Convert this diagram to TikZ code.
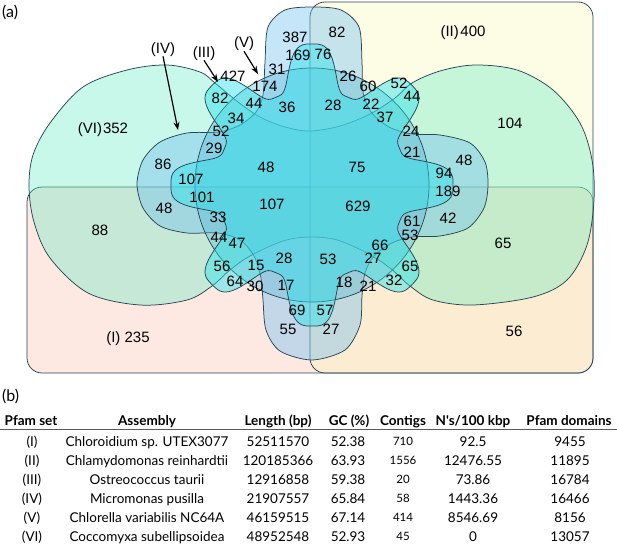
\documentclass[tikz,border=0pt]{standalone}
\usepackage{fontspec}
\setmainfont{Liberation Sans}
\newfontfamily\tabfont{Lato}
\usetikzlibrary{arrows.meta}
\definecolor{cI}{RGB}{250,180,160}
\definecolor{cII}{RGB}{250,245,170}
\definecolor{cVI}{RGB}{100,235,195}
\definecolor{cIV}{RGB}{110,190,240}
\definecolor{cV}{RGB}{80,180,210}
\definecolor{cIII}{RGB}{40,225,235}
\definecolor{edge}{RGB}{40,70,85}
\begin{document}
\begin{tikzpicture}[x=1pt,y=-1pt,
  vset/.style={draw=edge, line width=0.75pt},
  num/.style={font=\fontsize{15}{15}\selectfont, inner sep=0pt, anchor=base},
  tb/.style={font=\tabfont\fontsize{13.5}{14}\selectfont, inner sep=0pt, anchor=base},
  tbh/.style={font=\tabfont\bfseries\fontsize{13.5}{14}\selectfont, inner sep=0pt, anchor=base},
  tbs/.style={font=\tabfont\fontsize{11.5}{12}\selectfont, inner sep=0pt, anchor=base},
  pan/.style={font=\tabfont\fontsize{16}{16}\selectfont, inner sep=0pt, anchor=base west},
  arr/.style={-{Stealth[length=8pt,width=6pt]}, line width=1.2pt}]
\useasboundingbox (0,0) rectangle (617,543);
% set I and II (rectangles)
\filldraw[vset, fill=cI, fill opacity=0.3, rounded corners=15] (27,187) rectangle (593,373);
\filldraw[vset, fill=cII, fill opacity=0.3, rounded corners=15] (310,2) rectangle (593,373);
% set VI (two-lobed)
\filldraw[vset, fill=cVI, fill opacity=0.36] plot[smooth cycle, tension=0.55] coordinates {
 (310,131) (285,127) (260,117) (238,102) (215,83) (200,72) (167,65) (127,70) (83,87) (50,123) (33,155)
 (29,187) (34,222) (50,258) (88,293) (140,305) (187,300) (212,286)
 (230,270) (250,256) (283,241) (310,237) (337,240) (367,253) (390,268) (410,286)
 (433,300) (473,305) (533,297) (567,280) (587,245) (594,200) (592,160) (580,123) (553,90)
 (517,70) (475,65) (440,71) (412,83) (395,98) (370,114) (340,126)};
% set IV (four-lobed)
\filldraw[vset, fill=cIV, fill opacity=0.4] plot[smooth cycle, tension=0.5] coordinates {
 (265,62) (268,27) (285,10) (313,7) (341,10) (359,27) (362,62) (363,92) (371,112) (389,127) (412,134)
 (440,135) (470,143) (485,162) (488,185) (484,208) (468,228) (440,236) (412,237) (392,243) (374,256)
 (365,273) (362,296) (360,325) (345,350) (312,360) (280,351) (266,330) (263,300) (261,278) (254,256)
 (240,240) (218,233) (187,233) (160,226) (143,208) (137,184) (143,160) (160,142) (187,133) (219,132)
 (240,125) (256,112) (263,95)};
% set V (circle)
\filldraw[vset, fill=cV, fill opacity=0.35] (312,185) circle[radius=117];
% set III (eight-lobed)
\filldraw[vset, fill=cIII, fill opacity=0.45] plot[domain=0:360, samples=361, variable=\t]
 ({312+(118+26*(cos(8*\t)-cos(24*\t)/9))*cos(\t)},{185+(118+26*(cos(8*\t)-cos(24*\t)/9))*sin(\t)}) -- cycle;
% set labels and arrows
\node[num] (lIV) at (163,53) {(IV)};
\node[num] (lIII) at (204,57) {(III)};
\node[num] (lV) at (244,48) {(V)};
\coordinate (tIV) at (178,130);
\coordinate (tIII) at (218,82);
\coordinate (tV) at (258,74);
\draw[arr] (lIV.south) -- (tIV);
\draw[arr] (lIII.south) -- (tIII);
\draw[arr] (lV.south) -- (tV);
\node[num] (nVI) at (103,133) {(VI)\kern1pt352};
\node[num] (nII) at (463,37) {(II)\kern1.5pt400};
\node[num] (nI) at (128,342) {(I) 235};
% region counts
\foreach \x/\y/\t [count=\i] in {
 295/37/387, 298/55/169, 337/32/82, 323/54/76,
 233/76/427, 277/69/31, 265/86/174, 220/98/82, 254/103/44, 287/107/36,
 236/118/34, 221/131/52, 214/148/29,
 163/164/86, 266/167/48, 191/179/107, 202/197/101, 272/204/107, 164/208/48,
 100/230/88, 218/217/33, 219/237/44, 237/243/47, 284/258/28, 222/266/56, 256/265/15,
 235/281/64, 255/286/30, 286/285/17, 297/310/69, 288/329/55,
 348/76/26, 368/86/60, 399/83/52, 412/96/44, 333/105/28, 371/104/22, 385/117/37,
 510/123/104, 411/131/24, 412/152/21, 464/160/48, 357/167/75, 444/173/94, 448/191/189,
 358/206/629, 412/221/61, 448/218/42, 410/235/53, 503/243/65, 380/245/66, 328/259/53,
 373/258/27, 410/266/65, 344/282/18, 368/286/21, 394/280/32, 325/310/57, 331/329/27,
 514/331/56}
 { \node[num] (r\i) at (\x,\y+5.3) {\t}; }
% panel labels
\node[pan] (pa) at (2,18) {(a)};
\node[pan] (pb) at (2,401) {(b)};
% table
\foreach \x/\t [count=\i] in {31/{Pfam set}, 147/{Assembly}, 278/{Length (bp)}, 349/{GC (\%)}, 403/{Contigs}, 473/{N's/100 kbp}, 569/{Pfam domains}}
 { \node[tbh] (h\i) at (\x,425) {\t}; }
\draw[line width=1.2pt, draw={rgb,255:red,90;green,90;blue,90}] (0,429.5) -- (617,429.5);
\foreach \r/\a/\b/\c/\d/\e/\f/\g [count=\i] in {
 441/(I)/Chloroidium sp. UTEX3077/52511570/52.38/710/92.5/9455,
 460/(II)/Chlamydomonas reinhardtii/120185366/63.93/1556/12476.55/11895,
 479/(III)/Ostreococcus taurii/12916858/59.38/20/73.86/16784,
 498/(IV)/Micromonas pusilla/21907557/65.84/58/1443.36/16466,
 517/(V)/Chlorella variabilis NC64A/46159515/67.14/414/8546.69/8156,
 536/(VI)/Coccomyxa subellipsoidea/48952548/52.93/45/0/13057}
 {
 \node[tb] (a\i) at (32,\r+5) {\a};
 \node[tb] (b\i) at (147,\r+5) {\b};
 \node[tb] (c\i) at (278,\r+5) {\c};
 \node[tb] (d\i) at (348,\r+5) {\d};
 \node[tbs] (e\i) at (403,\r+4.5) {\e};
 \node[tb] (f\i) at (473,\r+5) {\f};
 \node[tb] (g\i) at (570,\r+5) {\g};
 }
\end{tikzpicture}
\end{document}
